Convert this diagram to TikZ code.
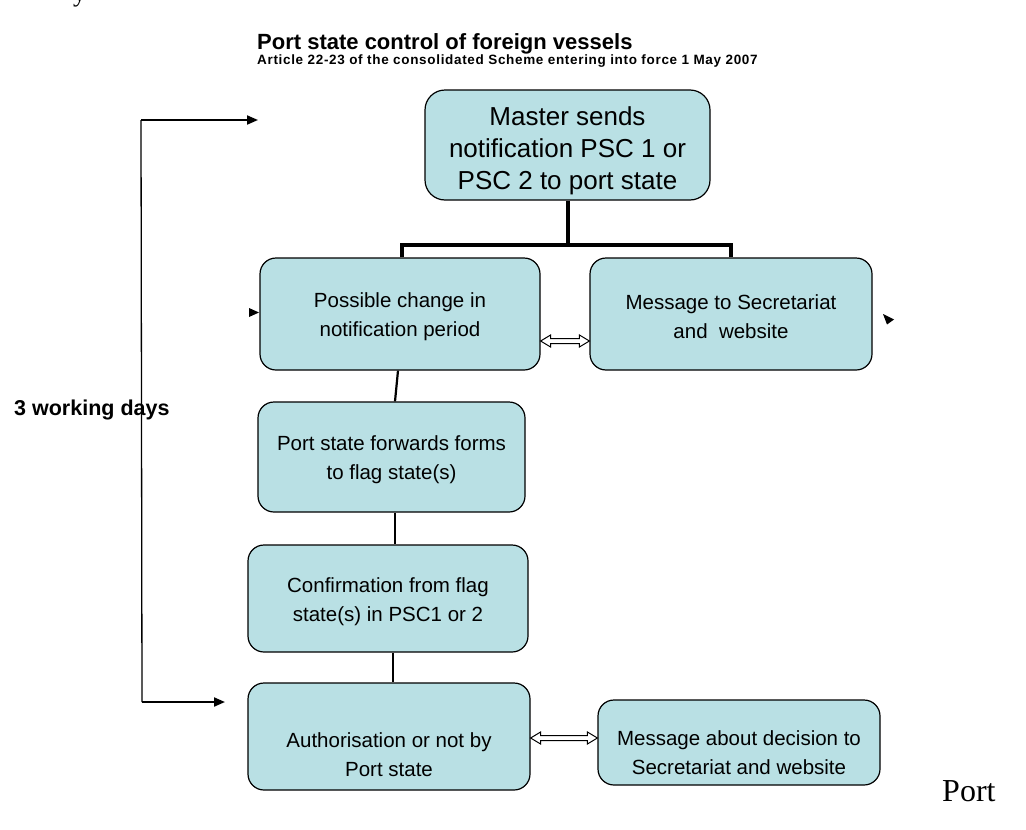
\documentclass[tikz,border=0pt]{standalone}
\usepackage{fontspec}
\setmainfont{Liberation Sans}
\newfontfamily\timesfont{Liberation Serif}
\newfontfamily\spacedfont[LetterSpace=5]{Liberation Sans}
\usetikzlibrary{arrows.meta,calc}
\definecolor{boxfill}{RGB}{185,224,228}
\begin{document}
\begin{tikzpicture}[x=1pt,y=-1pt,
  box/.style={draw=black,line width=1.2pt,fill=boxfill,rounded corners=16pt,inner sep=0pt},
  boxtext/.style={align=center,inner sep=0pt,font=\fontsize{20.5}{29}\selectfont},
  bigtext/.style={align=center,inner sep=0pt,font=\fontsize{26}{32}\selectfont},
  bus/.style={line width=4pt},
  link/.style={line width=2.2pt},
  vline/.style={line width=1.3pt},
  arrline/.style={line width=2pt,-{Triangle[length=11pt,width=9pt]}},
  hollow/.style={draw=black,line width=1pt,fill=white},
  plain/.style={anchor=base west,inner sep=0pt}]
\useasboundingbox (0,0) rectangle (1026,830);
% stray text fragments
\node[plain,font=\timesfont\fontsize{26}{30}\selectfont] (frag) at (73,1) {y};
\node[plain,font=\timesfont\fontsize{32}{36}\selectfont] (port) at (942,801) {Port};
% titles
\node[plain,font=\bfseries\fontsize{22}{26}\selectfont] (title) at (257,49) {Port state control of foreign vessels};
\node[plain,font=\spacedfont\bfseries\fontsize{13.5}{16}\selectfont] (sub) at (257,64) {Article 22-23 of the consolidated Scheme entering into force 1 May 2007};
\node[plain,font=\bfseries\fontsize{21.5}{25}\selectfont] (days) at (14,415) {3 working days};
% boxes
\node[box,rounded corners=20pt,minimum width=285,minimum height=110] (master) at (567.5,145) {};
\node[bigtext] (masterT) at (567.5,151) {Master sends\\notification PSC 1 or\\PSC 2 to port state};
\node[box,minimum width=280,minimum height=112] (poss) at (400,314) {};
\node[boxtext] (possT) at (400,317) {Possible change in\\notification period};
\node[box,minimum width=282,minimum height=112] (msgA) at (731,314) {};
\node[boxtext] (msgAT) at (731,317) {Message to Secretariat\\and\ \ website};
\node[box,minimum width=267,minimum height=110] (fwd) at (391.5,457) {};
\node[boxtext] (fwdT) at (391.5,460) {Port state forwards forms\\to flag state(s)};
\node[box,minimum width=280,minimum height=107] (conf) at (388,598.5) {};
\node[boxtext] (confT) at (388,601.5) {Confirmation from flag\\state(s) in PSC1 or 2};
\node[box,minimum width=282,minimum height=107] (auth) at (389,736.5) {};
\node[boxtext] (authT) at (389,755) {Authorisation or not by\\Port state};
\node[box,minimum width=282,minimum height=85] (msgB) at (739,742.5) {};
\node[boxtext] (msgBT) at (739,753) {Message about decision to\\Secretariat and website};
% bus connector
\coordinate (busL) at (402,245);
\coordinate (busR) at (731,245);
\draw[bus] (master.south) -- (master.south |- busL);
\draw[bus] (poss.north -| busL) -- (busL) -- (busR) -- (msgA.north -| busR);
% vertical links
\draw[link] ([xshift=-2pt]poss.south) -- ([xshift=3.5pt]fwd.north);
\draw[link] ([xshift=3.5pt]fwd.south) -- ([xshift=7pt]conf.north);
\draw[link] ([xshift=5pt]conf.south) -- ([xshift=4pt]auth.north);
% hollow double arrows
\coordinate (ya) at (0,341);
\coordinate (yb) at (0,738);
\draw[hollow] let \p1=(poss.east |- ya), \p2=(msgA.west |- ya) in
  (\x1,\y1) -- (\x1+10pt,\y1+6pt) -- (\x1+10pt,\y1+2.5pt) -- (\x2-10pt,\y1+2.5pt) -- (\x2-10pt,\y1+6pt) -- (\x2,\y1)
  -- (\x2-10pt,\y1-6pt) -- (\x2-10pt,\y1-2.5pt) -- (\x1+10pt,\y1-2.5pt) -- (\x1+10pt,\y1-6pt) -- cycle;
\draw[hollow] let \p1=(auth.east |- yb), \p2=(msgB.west |- yb) in
  (\x1,\y1) -- (\x1+10pt,\y1+6pt) -- (\x1+10pt,\y1+2.5pt) -- (\x2-10pt,\y1+2.5pt) -- (\x2-10pt,\y1+6pt) -- (\x2,\y1)
  -- (\x2-10pt,\y1-6pt) -- (\x2-10pt,\y1-2.5pt) -- (\x1+10pt,\y1-2.5pt) -- (\x1+10pt,\y1-6pt) -- cycle;
% bracket with arrows
\coordinate (btop) at (141,120);
\coordinate (bbot) at (142,702);
\coordinate (toptip) at (258,120);
\coordinate (bottip) at (225,702);
\draw[vline] (btop) -- (bbot);
\draw[arrline] (btop) -- (toptip);
\draw[arrline] (bbot) -- (bottip);
% stray arrowheads
\fill (249,308) -- (259,312.5) -- (249,317) -- cycle;
\fill (883,314) -- (894,319.5) -- (887,324.5) -- cycle;
\end{tikzpicture}
\end{document}
